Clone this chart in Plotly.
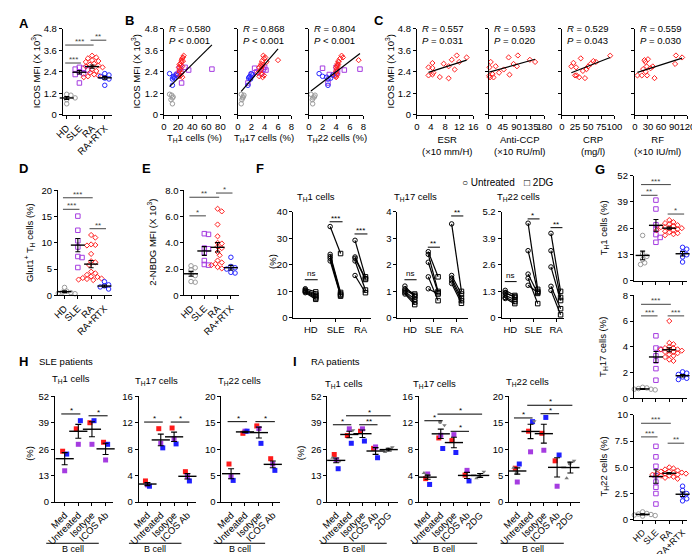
import numpy as np
import plotly.graph_objects as go

W, H = 700, 554
FONT = "Arial, Liberation Sans, Helvetica, sans-serif"
FS = 9.5

C_HD, C_SLE, C_RA, C_RTX = "#9b9b9b", "#a53ce0", "#ff2020", "#2727ff"
C_GRAY = "#7a7a7a"

GROUPS = ["HD", "SLE", "RA", "RA+RTX"]
F_GROUPS = ["HD", "SLE", "RA"]
COCULT = ["Med", "Untreated", "Isotype", "ICOS Ab"]
COCULT_I = ["Med", "Untreated", "Isotype", "ICOS Ab", "2DG"]

# ---------------- Panel A / B : subject level data ----------------
icos_HD = [1.15, 1.10, 1.00, 0.95, 0.85, 0.62]
th1_HD = [8, 11, 13, 12, 10, 12]
th17_HD = [0.5, 0.9, 0.8, 0.7, 0.6, 0.5]
th22_HD = [0.3, 0.9, 0.8, 0.6, 0.5, 0.55]

icos_SLE = [2.65, 2.60, 2.55, 2.50, 2.40, 2.30, 2.25, 1.78]
th1_SLE = [30, 22, 68, 35, 24, 20, 18, 25]
th17_SLE = [4.0, 2.5, 3.8, 4.2, 2.8, 3.5, 2.0, 1.5]
th22_SLE = [4.0, 2.0, 7.5, 5.2, 4.2, 4.0, 3.0, 2.8]

icos_RA = [3.30, 3.20, 3.15, 3.05, 3.00, 2.95, 2.85, 2.80, 2.75, 2.70, 2.65, 2.55, 2.45, 2.35, 2.25, 2.20, 2.15, 2.10]
th1_RA = [28, 27, 26, 25, 27, 25, 23, 22, 24, 26, 21, 23, 22, 25, 20, 24, 22, 26]
th17_RA = [3.8, 4.1, 3.9, 6.0, 3.6, 4.3, 3.5, 3.7, 3.4, 3.6, 3.2, 3.5, 3.3, 3.0, 3.6, 3.9, 3.2, 3.7]
th22_RA = [4.8, 5.0, 4.6, 7.3, 4.3, 4.4, 4.2, 4.3, 4.1, 4.2, 4.0, 4.1, 4.0, 3.9, 4.2, 3.8, 3.9, 4.0]

icos_RTX = [2.30, 2.22, 2.15, 2.10, 2.05, 2.00, 1.65]
th1_RTX = [8, 17, 14, 13, 15, 12, 12]
th17_RTX = [2.0, 2.2, 1.8, 1.7, 1.6, 1.9, 1.5]
th22_RTX = [1.5, 3.5, 2.0, 2.6, 3.2, 2.8, 2.8]

# regression lines: (intercept, slope)
fit_B = [(1.27, 0.0387), (1.10, 0.43), (1.25, 0.29)]
r_B = ["0.580", "0.868", "0.804"]
p_B = ["&lt; 0.001", "&lt; 0.001", "&lt; 0.001"]

# ---------------- Panel C : RA clinical parameters ----------------
esr = [3.3, 3.3, 4.4, 4.4, 4.4, 4.7, 6.5, 7.6, 9.0, 9.0, 9.9, 10.7, 11.3, 12.0, 14.1]
icos_esr = [2.65, 2.20, 2.89, 2.62, 2.25, 2.35, 2.11, 2.85, 2.71, 2.04, 3.07, 2.53, 3.31, 2.95, 3.20]
ccp = [2, 1, 3, 6, 12, 15, 22, 33, 48, 64, 67, 80, 91, 94, 133, 150]
icos_ccp = [2.65, 2.18, 2.09, 2.95, 2.27, 2.09, 2.71, 2.35, 2.53, 3.20, 2.24, 2.84, 2.71, 3.31, 3.07, 2.95]
crp = [18, 22, 25, 27, 28, 33, 36, 40, 44, 47, 50, 55, 60, 65, 92]
icos_crp = [2.70, 2.90, 2.20, 2.65, 2.20, 2.10, 3.15, 2.45, 2.05, 2.55, 2.70, 2.85, 3.00, 2.95, 3.30]
rf = [6, 16, 19, 22, 24, 25, 27, 28, 30, 36, 41, 45, 92, 94, 108]
icos_rf = [2.20, 2.20, 2.55, 3.05, 2.95, 2.40, 2.70, 2.20, 3.10, 2.60, 2.70, 2.05, 2.84, 3.31, 3.20]
fit_C = [(2.165, 0.063), (2.38, 0.0048), (2.14, 0.0115), (2.32, 0.0078)]
r_C = ["0.557", "0.593", "0.529", "0.559"]
p_C = ["= 0.031", "= 0.020", "= 0.043", "= 0.030"]

# ---------------- Panel D / E ----------------
glut_HD = [1.5, 0.8, 0.6, 0.4, 0.3, 0.5]
glut_SLE = [15.1, 12.4, 10.4, 9.2, 7.4, 7.2, 5.3]
glut_RA = [11.5, 11.0, 9.7, 9.6, 9.5, 7.9, 6.5, 6.3, 5.8, 4.5, 4.2, 3.9, 3.5, 3.3, 3.2, 3.1, 3.0, 3.6, 2.9]
glut_RTX = [2.6, 2.0, 1.8, 1.6, 1.4, 1.2]

nbdg_HD = [2.25, 2.10, 1.95, 1.65, 1.50, 1.05, 1.00]
nbdg_SLE = [4.70, 4.65, 3.60, 3.55, 3.25, 2.65, 2.35, 2.30]
nbdg_RA = [6.60, 6.40, 5.40, 4.50, 4.00, 3.95, 3.70, 3.60, 3.30, 3.05, 2.65, 2.50, 2.40, 2.30, 2.15, 2.05]
nbdg_RTX = [2.90, 2.20, 2.10, 2.00, 1.75, 1.70]

# ---------------- Panel F : untreated vs 2DG (paired) ----------------
f1_unt = [[11.0, 10.6, 10.3, 10.0, 9.8, 9.5], [34.5, 24.0, 23.2, 22.5, 21.5], [29.3, 23.0, 22.5, 21.5, 16.0]]
f1_2dg = [[9.8, 9.0, 8.5, 8.0, 7.5, 7.0], [24.3, 9.6, 9.0, 8.6, 8.2], [15.5, 14.8, 14.5, 10.5, 9.5]]
f2_unt = [[1.10, 1.05, 1.00, 0.95, 0.90, 1.20], [2.50, 2.40, 2.10, 1.55, 1.10], [3.55, 1.60, 1.50, 1.40, 1.30]]
f2_2dg = [[0.90, 0.85, 0.70, 0.60, 0.50, 0.80], [1.55, 1.00, 0.95, 0.65, 0.90], [1.00, 0.90, 0.75, 0.65, 0.55]]
f3_unt = [[1.35, 1.25, 1.10, 1.00, 0.95, 1.20], [4.65, 3.30, 2.15, 1.95, 1.60], [4.15, 3.30, 2.50, 1.55, 1.35]]
f3_2dg = [[1.10, 1.00, 0.90, 0.80, 0.70, 1.05], [1.40, 1.30, 1.20, 0.70, 1.25], [1.30, 1.00, 0.85, 0.45, 0.15]]

# ---------------- Panel G ----------------
g1 = [[22.4, 13.2, 12.0, 10.5, 8.8, 8.0],
      [39.9, 35.5, 27.7, 25.5, 22.8, 21.4, 19.0],
      [30.0, 29.0, 28.5, 28.0, 27.5, 27.0, 26.5, 26.0, 26.0, 25.5, 25.0, 25.0, 24.5, 24.0, 23.5, 23.0, 22.5, 26.5],
      [16.5, 15.6, 14.1, 11.7, 9.2, 12.8]]
g2 = [[0.85, 0.75, 0.70, 0.70, 0.65, 0.60, 0.80],
      [4.85, 3.90, 3.80, 3.30, 2.90, 2.30, 1.40],
      [6.0, 4.3, 4.2, 4.0, 3.9, 3.9, 3.8, 3.8, 3.7, 3.7, 3.6, 3.6, 3.5, 3.4, 3.3, 3.2, 3.0, 2.9],
      [2.05, 1.95, 1.85, 1.65, 1.55, 1.45]]
g3 = [[0.75, 0.60, 0.55, 0.50, 0.45, 0.40, 0.35],
      [7.0, 6.0, 5.1, 4.2, 3.6, 3.1, 2.5, 1.5],
      [5.0, 4.9, 4.8, 4.7, 4.6, 4.5, 4.5, 4.4, 4.4, 4.3, 4.3, 4.2, 4.2, 4.1, 4.0, 3.9, 4.6, 4.4],
      [3.2, 2.8, 2.5, 2.3, 2.0, 1.8]]

# ---------------- Panel H : SLE patients co-culture ----------------
h1_red, h1_blue, h1_purple = [25.0, 36.0, 39.0, 29.4], [23.6, 40.0, 40.0, 28.4], [15.4, 28.4, 28.4, 20.7]
h2_red, h2_blue, h2_purple = [3.2, 11.1, 11.2, 4.6], [2.4, 8.2, 8.8, 3.2], [2.6, 8.9, 9.6, 3.9]
h3_red, h3_blue, h3_purple = [7.2, 13.0, 14.4, 8.2], [4.1, 13.4, 11.1, 6.0], [4.8, 13.4, 13.9, 7.2]

# ---------------- Panel I : RA patients co-culture ----------------
i1_red, i1_blue, i1_purple = [23.4, 32.7, 34.8, 26.4, None], [16.4, 28.9, 30.0, 21.8, None], [20.7, 36.0, 36.0, 27.1, None]
i1_up, i1_down, i1_dot = [21.8, None, None, None, 24.6], [20.2, 35.3, None, None, 27.0], [None, None, None, None, 25.8]
i2_red, i2_blue, i2_purple = [3.55, 9.7, 9.3, 4.1, None], [2.67, 8.1, 7.5, 3.2, None], [4.25, 10.1, 10.2, 4.8, None]
i2_up, i2_down, i2_dot = [4.4, None, None, None, 3.6], [None, 11.6, None, None, 4.6], [4.0, 12.1, None, None, 3.9]
i3_red, i3_blue, i3_purple = [6.4, 13.4, 13.0, 7.8, None], [7.2, 15.2, 16.0, 8.9, None], [3.8, 9.5, 9.8, 3.0, None]
i3_up, i3_down, i3_dot = [6.5, None, None, None, 4.5], [None, 15.3, None, None, 7.8], [5.5, None, None, None, 7.3]

# significance annotations: (from, to, height, label)
sig_A = [(0, 1, 2.89, "***"), (0, 2, 3.89, "***"), (2, 3, 4.16, "**")]
sig_D = [(0, 1, 16.4, "***"), (0, 2, 18.6, "***"), (2, 3, 12.7, "**")]
sig_E = [(0, 1, 6.06, "*"), (0, 2, 7.48, "**"), (2, 3, 7.8, "*")]
sig_F = [[(0, 14.4, "ns"), (1, 36.3, "***"), (2, 31.7, "***")],
         [(0, 1.44, "ns"), (1, 2.67, "**"), (2, 3.85, "**")],
         [(0, 1.78, "ns"), (1, 4.86, "*"), (2, 4.43, "**")]]
sig_G = [[(0, 1, 42.3, "**"), (0, 2, 47.6, "***"), (2, 3, 33.0, "*")],
         [(0, 1, 6.4, "***"), (0, 2, 7.3, "***"), (2, 3, 6.4, "***")],
         [(0, 1, 7.9, "***"), (0, 2, 9.2, "***"), (2, 3, 7.3, "**")]]
sig_H = [[(0, 1, 43.3, "*"), (2, 3, 42.4, "*")],
         [(0, 1, 12.1, "*"), (2, 3, 12.1, "*")],
         [(0, 1, 15.2, "*"), (2, 3, 15.2, "*")]]
sig_I = [[(0, 1, 38.0, "*"), (2, 3, 38.0, "**"), (1, 4, 42.4, "*")],
         [(0, 1, 12.3, "*"), (2, 3, 10.7, "*"), (1, 4, 13.3, "*")],
         [(0, 1, 15.9, "*"), (2, 3, 16.7, "*"), (1, 4, 18.3, "*")]]

# =================================================================
fig = go.Figure()
AX, SHAPES, ANN = {}, [], []
count = [0]


def fmt(v):
    return "%g" % v


def new_axes(xpx, ypx, xr, yr, xtv, xtt=None, ytv=None, ytt=None, xang=0, xlab=True, ylab=True, xfs=FS):
    count[0] += 1
    n = count[0]
    s = "" if n == 1 else str(n)
    base = dict(showline=True, linecolor="black", linewidth=1, ticks="outside", ticklen=3,
                tickwidth=1, tickcolor="black", showgrid=False, zeroline=False, fixedrange=True,
                tickfont=dict(family=FONT, size=FS, color="black"), tickmode="array")
    AX["xaxis" + s] = dict(base, domain=[xpx[0] / W, xpx[1] / W], range=xr, anchor="y" + s,
                           tickvals=xtv, ticktext=xtt if xtt is not None else [fmt(v) for v in xtv],
                           tickangle=xang, showticklabels=xlab,
                           tickfont=dict(family=FONT, size=xfs, color="black"))
    AX["yaxis" + s] = dict(base, domain=[1 - ypx[1] / H, 1 - ypx[0] / H], range=yr, anchor="x" + s,
                           tickvals=ytv, ticktext=ytt if ytt is not None else [fmt(v) for v in ytv],
                           showticklabels=ylab)
    ppcx = (xpx[1] - xpx[0]) / (xr[1] - xr[0])
    ppuy = (ypx[1] - ypx[0]) / (yr[1] - yr[0])
    return "x" + s, "y" + s, ppcx, ppuy


def text(x, y, s, size=FS, xanchor="center", yanchor="middle", angle=0, bold=False):
    ANN.append(dict(x=x / W, y=1 - y / H, xref="paper", yref="paper", text=("<b>%s</b>" % s) if bold else s,
                    showarrow=False, xanchor=xanchor, yanchor=yanchor, textangle=angle,
                    font=dict(family=FONT, size=size, color="black")))


def swarm(vals, ppuy, ppcx, d):
    order = sorted(range(len(vals)), key=lambda i: -vals[i])
    placed, offs = [], [0.0] * len(vals)
    step = 0.5 * d / ppcx
    cands = [0.0]
    for k in range(1, 14):
        cands += [k * step, -k * step]
    for i in order:
        yy = vals[i] * ppuy
        chosen = cands[-1]
        for c in cands:
            if all(((c - pc) * ppcx) ** 2 + (yy - py) ** 2 >= (0.9 * d) ** 2 for pc, py in placed):
                chosen = c
                break
        placed.append((chosen, yy))
        offs[i] = chosen
    return offs


def mean_sem(xa, ya, cat, vals, mlen=10, cap=2.5):
    v = np.asarray([q for q in vals if q is not None], float)
    m = v.mean()
    s = v.std(ddof=1) / np.sqrt(len(v))
    fig.add_trace(go.Scatter(x=[cat], y=[m], mode="markers", xaxis=xa, yaxis=ya, cliponaxis=False,
                             marker=dict(symbol="line-ew", size=mlen, color="black",
                                         line=dict(width=1.4, color="black")),
                             error_y=dict(type="data", array=[s], color="black", thickness=1.1, width=cap),
                             hoverinfo="skip"))


GROUP_STYLE = [(C_HD, "circle-open", 4.5), (C_SLE, "square-open", 4.5), (C_RA, "diamond-open", 4.0),
               (C_RTX, "circle-open", 4.5)]


def dots(xa, ya, series, ppcx, ppuy, mlen=10):
    for k, vals in enumerate(series):
        col, sym, sz = GROUP_STYLE[k]
        offs = swarm(vals, ppuy, ppcx, 4.3)
        fig.add_trace(go.Scatter(x=[k + o for o in offs], y=vals, mode="markers", xaxis=xa, yaxis=ya,
                                 cliponaxis=False, hoverinfo="skip",
                                 marker=dict(symbol=sym, size=sz, color=col, line=dict(width=1, color=col))))
    for k, vals in enumerate(series):
        mean_sem(xa, ya, k, vals, mlen, 2.5)


def sig(xa, ya, x0, x1, y, label, color="black", ext=(0.12, 0.12)):
    SHAPES.append(dict(type="line", xref=xa, yref=ya, x0=x0 - ext[0], x1=x1 + ext[1], y0=y, y1=y,
                       line=dict(color=color, width=1)))
    ANN.append(dict(xref=xa, yref=ya, x=(x0 + x1) / 2, y=y, text=label, showarrow=False,
                    yanchor="bottom", yshift=(-3 if "*" in label else 0),
                    font=dict(family=FONT, size=8, color=color)))


# ---------------- A ----------------
xa, ya, cx, cy = new_axes((45, 96), (15, 103), [-0.31, 3.6], [0, 4.8], [0, 1, 2, 3], GROUPS,
                          [0, 1.2, 2.4, 3.6, 4.8], xang=-45)
dots(xa, ya, [icos_HD, icos_SLE, icos_RA, icos_RTX], cx, cy)
for a, b, y, t in sig_A:
    sig(xa, ya, a, b, y, t, "#444")
text(17, 59, "ICOS MFI (X 10<sup>3</sup>)", angle=-90)
text(5, 10, "A", size=13, bold=True)

# ---------------- B ----------------
B_x = [(th1_HD, th1_SLE, th1_RA, th1_RTX), (th17_HD, th17_SLE, th17_RA, th17_RTX),
       (th22_HD, th22_SLE, th22_RA, th22_RTX)]
B_y = (icos_HD, icos_SLE, icos_RA, icos_RTX)
B_spec = [((149, 207), [0, 80], [0, 20, 40, 60, 80], "T<sub>H</sub>1 cells (%)", 180),
          ((225, 280), [0, 8], [0, 2, 4, 6, 8], "T<sub>H</sub>17 cells (%)", 252),
          ((298, 354), [0, 8], [0, 2, 4, 6, 8], "T<sub>H</sub>22 cells (%)", 327)]
for i, (xpx, xr, xtv, ttl, tx) in enumerate(B_spec):
    xa, ya, cx, cy = new_axes(xpx, (15, 103), xr, [0, 4.8], xtv, None, [0, 1.2, 2.4, 3.6, 4.8], ylab=(i == 0))
    for k in range(4):
        col, sym, sz = GROUP_STYLE[k]
        fig.add_trace(go.Scatter(x=B_x[i][k], y=B_y[k], mode="markers", xaxis=xa, yaxis=ya, cliponaxis=False,
                                 hoverinfo="skip",
                                 marker=dict(symbol=sym, size=sz, color=col, line=dict(width=1, color=col))))
    allx = [v for grp in B_x[i] for v in grp]
    b0, b1 = fit_B[i]
    lx = [min(allx), max(allx)]
    fig.add_trace(go.Scatter(x=lx, y=[b0 + b1 * v for v in lx], mode="lines", xaxis=xa, yaxis=ya,
                             cliponaxis=False, line=dict(color="black", width=1.2), hoverinfo="skip"))
    text(xpx[0] + 3, 15, "<i>R</i> = " + r_B[i], xanchor="left")
    text(xpx[0] + 3, 27, "<i>P</i> " + p_B[i], xanchor="left")
    text(tx, 127, ttl)
text(120, 59, "ICOS MFI (X 10<sup>3</sup>)", angle=-90)
text(114, 7, "B", size=13, bold=True)

# ---------------- C ----------------
C_x = [esr, ccp, crp, rf]
C_y = [icos_esr, icos_ccp, icos_crp, icos_rf]
C_spec = [((409, 467), [0, 16], [0, 4, 8, 12, 16], "ESR<br>(×10 mm/H)", 440),
          ((483, 540), [0, 180], [0, 45, 90, 135, 180], "Anti-CCP<br>(×10 RU/ml)", 514),
          ((558, 612), [0, 100], [0, 25, 50, 75, 100], "CRP<br>(mg/l)", 590),
          ((633, 687), [0, 120], [0, 30, 60, 90, 120], "RF<br>(×10 IU/ml)", 656)]
for i, (xpx, xr, xtv, ttl, tx) in enumerate(C_spec):
    xa, ya, cx, cy = new_axes(xpx, (15, 103), xr, [0, 4.8], xtv, None, [0, 1.2, 2.4, 3.6, 4.8], ylab=(i == 0))
    fig.add_trace(go.Scatter(x=C_x[i], y=C_y[i], mode="markers", xaxis=xa, yaxis=ya, cliponaxis=False,
                             hoverinfo="skip",
                             marker=dict(symbol="diamond-open", size=4.0, color=C_RA, line=dict(width=1, color=C_RA))))
    b0, b1 = fit_C[i]
    lx = [min(C_x[i]), max(C_x[i])]
    fig.add_trace(go.Scatter(x=lx, y=[b0 + b1 * v for v in lx], mode="lines", xaxis=xa, yaxis=ya,
                             cliponaxis=False, line=dict(color="black", width=1.2), hoverinfo="skip"))
    text(xpx[0] + 3, 15, "<i>R</i> = " + r_C[i], xanchor="left")
    text(xpx[0] + 3, 27, "<i>P</i> " + p_C[i], xanchor="left")
    ANN.append(dict(x=tx / W, y=1 - 120 / H, xref="paper", yref="paper", text=ttl, showarrow=False,
                    xanchor="center", yanchor="top", font=dict(family=FONT, size=FS, color="black")))
text(381, 59, "ICOS MFI (X 10<sup>3</sup>)", angle=-90)
text(370, 7, "C", size=13, bold=True)

# ---------------- D ----------------
xa, ya, cx, cy = new_axes((40, 96), (180, 287), [-0.5, 3.6], [0, 20], [0, 1, 2, 3], GROUPS,
                          [0, 5, 10, 15, 20], xang=-45)
dots(xa, ya, [glut_HD, glut_SLE, glut_RA, glut_RTX], cx, cy)
for a, b, y, t in sig_D:
    sig(xa, ya, a, b, y, t, "#444")
text(11, 233, "Glut1<sup>+</sup> T<sub>H</sub> cells (%)", angle=-90)
text(5, 158, "D", size=13, bold=True)

# ---------------- E ----------------
xa, ya, cx, cy = new_axes((170, 226), (180, 287), [-0.5, 3.6], [0, 8], [0, 1, 2, 3], GROUPS,
                          [0, 2, 4, 6, 8], ["0", "2.0", "4.0", "6.0", "8.0"], xang=-45)
dots(xa, ya, [nbdg_HD, nbdg_SLE, nbdg_RA, nbdg_RTX], cx, cy)
for a, b, y, t in sig_E:
    sig(xa, ya, a, b, y, t, "#444")
text(137, 233, "2-NBDG MFI (X 10<sup>3</sup>)", angle=-90)
text(131, 158, "E", size=13, bold=True)

# ---------------- F ----------------
F_spec = [((282, 362), [-0.7, 2.43], [0, 40], [0, 10, 20, 30, 40], None, f1_unt, f1_2dg, "T<sub>H</sub>1 cells", 305),
          ((389, 462), [-0.54, 2.5], [0, 4], [0, 1, 2, 3, 4], None, f2_unt, f2_2dg, "T<sub>H</sub>17 cells", 408),
          ((496, 560), [-0.38, 2.34], [0, 5.2], [0, 1.3, 2.6, 3.9, 5.2], None, f3_unt, f3_2dg, "T<sub>H</sub>22 cells", 513)]
DU, DD = -0.22, 0.2
for i, (xpx, xr, yr, ytv, ytt, unt, dg, ttl, tx) in enumerate(F_spec):
    xa, ya, cx, cy = new_axes(xpx, (202, 310), xr, yr, [0, 1, 2], F_GROUPS, ytv, ytt)
    for g in range(3):
        lx, ly = [], []
        for u, d in zip(unt[g], dg[g]):
            lx += [g + DU, g + DD, None]
            ly += [u, d, None]
        fig.add_trace(go.Scatter(x=lx, y=ly, mode="lines", xaxis=xa, yaxis=ya, cliponaxis=False,
                                 line=dict(color="black", width=1.2), hoverinfo="skip"))
        fig.add_trace(go.Scatter(x=[g + DU] * len(unt[g]), y=unt[g], mode="markers", xaxis=xa, yaxis=ya,
                                 cliponaxis=False, hoverinfo="skip",
                                 marker=dict(symbol="circle-open", size=4.5, color="black", line=dict(width=1))))
        fig.add_trace(go.Scatter(x=[g + DD] * len(dg[g]), y=dg[g], mode="markers", xaxis=xa, yaxis=ya,
                                 cliponaxis=False, hoverinfo="skip",
                                 marker=dict(symbol="square-open", size=4.5, color="black", line=dict(width=1))))
    for g, y, t in sig_F[i]:
        sig(xa, ya, g + DU, g + DD, y, t, "black", ext=(0.02, 0.08))
    text(tx, 187, ttl)
text(261, 252, "(%)", angle=-90)
text(483, 172, "○ Untreated", size=10)
text(535, 172, "□ 2DG", size=10)
text(248, 158, "F", size=13, bold=True)

# ---------------- G ----------------
G_spec = [((165, 272), [0, 52], [0, 13, 26, 39, 52], None, g1, "T<sub>H</sub>1 cells (%)", 218, False),
          ((287, 392), [0, 8], [0, 2, 4, 6, 8], None, g2, "T<sub>H</sub>17 cells (%)", 340, False),
          ((409, 516), [0, 10], [0, 2.5, 5, 7.5, 10], ["0", "2.5", "5.0", "7.5", "10"], g3,
           "T<sub>H</sub>22 cells (%)", 462, True)]
for i, (ypx, yr, ytv, ytt, series, ttl, ty, xl) in enumerate(G_spec):
    xa, ya, cx, cy = new_axes((632, 687), ypx, [-0.66, 3.36], yr, [0, 1, 2, 3], GROUPS, ytv, ytt,
                              xang=-45, xlab=xl, xfs=9)
    dots(xa, ya, series, cx, cy)
    for a, b, y, t in sig_G[i]:
        sig(xa, ya, a, b, y, t, "#444")
    text(601, ty, ttl, angle=-90)
text(597, 159, "G", size=13, bold=True)

# ---------------- H & I ----------------
PAT = [("red", "#ff1a1a", -0.15), ("purple", "#a53ce0", 0.0), ("blue", "#1f1fff", 0.15)]


def cocult(xa, ya, cats, red, purple, blue, extras=None):
    for (nm, col, off), vals in zip(PAT, [red, purple, blue]):
        xs = [k + off for k, v in enumerate(vals) if v is not None]
        ys = [v for v in vals if v is not None]
        fig.add_trace(go.Scatter(x=xs, y=ys, mode="markers", xaxis=xa, yaxis=ya, cliponaxis=False,
                                 hoverinfo="skip", marker=dict(symbol="square", size=5, color=col)))
    if extras:
        for vals, sym, off in extras:
            xs = [k + off for k, v in enumerate(vals) if v is not None]
            ys = [v for v in vals if v is not None]
            fig.add_trace(go.Scatter(x=xs, y=ys, mode="markers", xaxis=xa, yaxis=ya, cliponaxis=False,
                                     hoverinfo="skip", marker=dict(symbol=sym, size=4, color=C_GRAY)))
    for k in range(len(cats)):
        col_vals = [s[k] for s in [red, purple, blue] if s[k] is not None]
        if extras:
            col_vals += [e[0][k] for e in extras if e[0][k] is not None]
        mean_sem(xa, ya, k, col_vals, 13, 3)


H_spec = [((37, 97), [-0.71, 3.57], [0, 52], [0, 13, 26, 39, 52], (h1_red, h1_purple, h1_blue), "T<sub>H</sub>1 cells", 53, 372),
          ((123, 182), [-0.66, 3.65], [0, 16], [0, 4, 8, 12, 16], (h2_red, h2_purple, h2_blue), "T<sub>H</sub>17 cells", 141, 374),
          ((208, 268), [-0.7, 3.5], [0, 20], [0, 5, 10, 15, 20], (h3_red, h3_purple, h3_blue), "T<sub>H</sub>22 cells", 227, 374)]
HB = [(28, 82, 55), (113, 167, 140), (200, 253, 227)]
for i, (xpx, xr, yr, ytv, ser, ttl, tx, ty) in enumerate(H_spec):
    xa, ya, cx, cy = new_axes(xpx, (390, 498), xr, yr, [0, 1, 2, 3], COCULT, ytv, None, xang=-45)
    cocult(xa, ya, COCULT, *ser)
    for a, b, y, t in sig_H[i]:
        sig(xa, ya, a, b, y, t, "black", ext=(0.25, 0.15))
    text(tx, ty, ttl)
    x0, x1, bx = HB[i]
    SHAPES.append(dict(type="line", xref="paper", yref="paper", x0=x0 / W, x1=x1 / W,
                       y0=1 - 540 / H, y1=1 - 540 / H, line=dict(color="black", width=1)))
    text(bx, 546, "B cell", size=9)
text(10, 448, "(%)", angle=-90)
text(5, 355, "H", size=13, bold=True)
text(18, 355, "SLE patients", xanchor="left")

I_spec = [((317, 390), [-0.67, 4.74], [0, 52], [0, 13, 26, 39, 52],
           (i1_red, i1_purple, i1_blue), (i1_up, i1_down, i1_dot), "T<sub>H</sub>1 cells", 334, 377),
          ((411, 484), [-0.67, 4.74], [0, 16], [0, 4, 8, 12, 16],
           (i2_red, i2_purple, i2_blue), (i2_up, i2_down, i2_dot), "T<sub>H</sub>17 cells", 427, 377),
          ((504, 577), [-0.6, 4.75], [0, 20], [0, 5, 10, 15, 20],
           (i3_red, i3_purple, i3_blue), (i3_up, i3_down, i3_dot), "T<sub>H</sub>22 cells", 523, 375)]
IB = [(310, 378, 344), (404, 471, 437), (495, 560, 528)]
for i, (xpx, xr, yr, ytv, ser, gray, ttl, tx, ty) in enumerate(I_spec):
    xa, ya, cx, cy = new_axes(xpx, (390, 498), xr, yr, [0, 1, 2, 3, 4], COCULT_I, ytv, None, xang=-45)
    extras = [(gray[0], "triangle-up", -0.28), (gray[1], "triangle-down", 0.28), (gray[2], "circle", -0.05)]
    cocult(xa, ya, COCULT_I, *ser, extras=extras)
    for a, b, y, t in sig_I[i]:
        sig(xa, ya, a, b, y, t, "black", ext=(0.25, 0.15))
    text(tx, ty, ttl)
    x0, x1, bx = IB[i]
    SHAPES.append(dict(type="line", xref="paper", yref="paper", x0=x0 / W, x1=x1 / W,
                       y0=1 - 540 / H, y1=1 - 540 / H, line=dict(color="black", width=1)))
    text(bx, 546, "B cell", size=9)
text(289, 448, "(%)", angle=-90)
text(284, 355, "I", size=13, bold=True)
text(298, 355, "RA patients", xanchor="left")

fig.update_layout(width=W, height=H, margin=dict(l=0, r=0, t=0, b=0), showlegend=False,
                  paper_bgcolor="white", plot_bgcolor="white", font=dict(family=FONT, size=FS, color="black"),
                  shapes=SHAPES, annotations=ANN, **AX)
fig.write_html("out.html")
